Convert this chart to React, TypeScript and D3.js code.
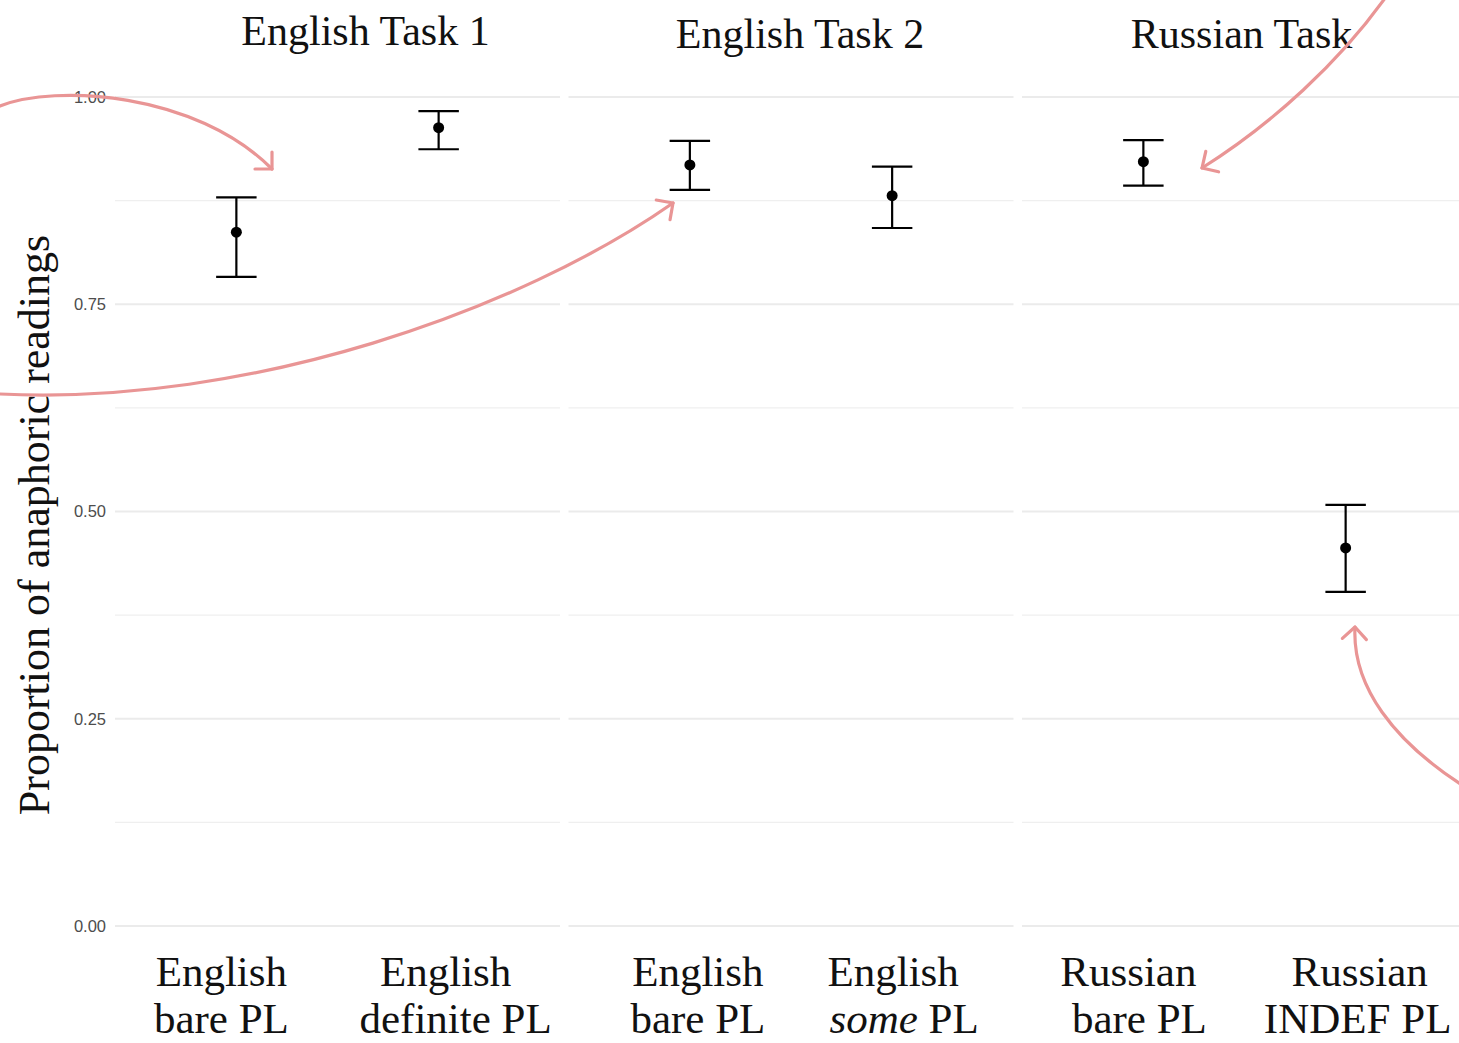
import React from "react";
import * as d3 from "d3";

// Facets (tasks) and the two conditions in each
const panelNames = ["English Task 1", "English Task 2", "Russian Task"];
const conditionPanel = [0, 0, 1, 1, 2, 2];
const conditionIds = ["en1_bare", "en1_def", "en2_bare", "en2_some", "ru_bare", "ru_indef"];
const labelLine1 = ["English", "English", "English", "English", "Russian", "Russian"];
const labelLine2 = ["bare PL", "definite PL", "bare PL", "some PL", "bare PL", "INDEF PL"];

// Proportion of anaphoric readings with confidence intervals
const meanProp = [0.837, 0.963, 0.918, 0.881, 0.922, 0.456];
const ciLow = [0.783, 0.937, 0.888, 0.842, 0.893, 0.403];
const ciHigh = [0.879, 0.983, 0.947, 0.916, 0.948, 0.508];

const yMajor = [0, 0.25, 0.5, 0.75, 1];
const yMinor = [0.125, 0.375, 0.625, 0.875];

// Layout
const W = 1459;
const H = 1043;
const panelX0 = 115;
const panelW = 445;
const panelGap = 8.5;
const plotTop = 97;
const plotBottom = 926;

const SERIF = "'Liberation Serif', 'Times New Roman', serif";
const SANS = "'Liberation Sans', Arial, sans-serif";
const ARROW = "#e99595";

// Hand-drawn annotation arrows (cubic curves in page space)
const arrows: [number, number][][] = [
  [[0, 106], [55, 84], [195, 92], [272, 169]],
  [[0, 394], [250, 406], [520, 310], [673, 203]],
  [[1388, -6], [1340, 62], [1272, 124], [1202, 168]],
  [[1470, 790], [1392, 742], [1352, 685], [1355, 627]],
];

// Per-line nudges of the category labels and strip titles
const line1Dx = [-15, 7, 8, 1, -15, 14];
const line2Dx = [-15, 17, 8, 12, -4, 12];
const titleDx = [28, 9, -3];
const titleY = [45, 48, 48];

export default function App() {
  const y = d3.scaleLinear().domain([0, 1]).range([plotBottom, plotTop]);
  const fmt = d3.format(".2f");

  const panelRange = (p: number): [number, number] => {
    const x0 = panelX0 + p * (panelW + panelGap);
    return [x0, x0 + panelW];
  };
  const xScales = panelNames.map((_, p) =>
    d3
      .scalePoint<string>()
      .domain(conditionIds.filter((_, i) => conditionPanel[i] === p))
      .range(panelRange(p))
      .padding(0.6)
  );
  const xOf = (i: number) => xScales[conditionPanel[i]](conditionIds[i]) as number;
  const capHalf = xScales[0].step() * 0.1;

  const curve = (pts: [number, number][]) => {
    const p = d3.path();
    p.moveTo(pts[0][0], pts[0][1]);
    p.bezierCurveTo(pts[1][0], pts[1][1], pts[2][0], pts[2][1], pts[3][0], pts[3][1]);
    return p.toString();
  };
  const head = (pts: [number, number][]) => {
    const [tx, ty] = pts[3];
    const ang = Math.atan2(ty - pts[2][1], tx - pts[2][0]);
    const L = 17;
    const a1 = ang + Math.PI - Math.PI / 4;
    const a2 = ang + Math.PI + Math.PI / 4;
    return `M${tx + L * Math.cos(a1)},${ty + L * Math.sin(a1)}L${tx},${ty}L${tx + L * Math.cos(a2)},${ty + L * Math.sin(a2)}`;
  };

  return (
    <svg
      width={W}
      height={H}
      style={{ position: "fixed", left: 0, top: 0, background: "#fff" }}
    >
      <rect width={W} height={H} fill="#fff" />
      {panelNames.map((name, p) => {
        const [x0, x1] = panelRange(p);
        return (
          <g key={name}>
            {yMinor.map((v) => (
              <line key={"m" + v} x1={x0} x2={x1} y1={y(v)} y2={y(v)} stroke="#efefef" strokeWidth={1.2} />
            ))}
            {yMajor.map((v) => (
              <line key={"M" + v} x1={x0} x2={x1} y1={y(v)} y2={y(v)} stroke="#ebebeb" strokeWidth={2.2} />
            ))}
            <text
              x={(x0 + x1) / 2 + titleDx[p]}
              y={titleY[p]}
              textAnchor="middle"
              fontFamily={SERIF}
              fontSize={42}
              fill="#111"
            >
              {name}
            </text>
          </g>
        );
      })}

      {yMajor.map((v) => (
        <text
          key={"t" + v}
          x={106}
          y={y(v)}
          dy="0.36em"
          textAnchor="end"
          fontFamily={SANS}
          fontSize={16.5}
          fill="#4d4d4d"
        >
          {fmt(v)}
        </text>
      ))}

      <text
        transform={`translate(49,525) rotate(-90)`}
        textAnchor="middle"
        fontFamily={SERIF}
        fontSize={44}
        fill="#111"
      >
        Proportion of anaphoric readings
      </text>

      {conditionIds.map((id, i) => {
        const cx = xOf(i);
        return (
          <g key={id} stroke="#000" strokeWidth={2.2}>
            <line x1={cx} x2={cx} y1={y(ciLow[i])} y2={y(ciHigh[i])} />
            <line x1={cx - capHalf} x2={cx + capHalf} y1={y(ciLow[i])} y2={y(ciLow[i])} />
            <line x1={cx - capHalf} x2={cx + capHalf} y1={y(ciHigh[i])} y2={y(ciHigh[i])} />
            <circle cx={cx} cy={y(meanProp[i])} r={5.5} fill="#000" stroke="none" />
          </g>
        );
      })}

      {conditionIds.map((id, i) => {
        const cx = xOf(i);
        const l2 = labelLine2[i];
        const italic = l2.startsWith("some ");
        return (
          <g key={"lab" + id} fontFamily={SERIF} fontSize={43} fill="#111" textAnchor="middle">
            <text x={cx + line1Dx[i]} y={986}>
              {labelLine1[i]}
            </text>
            <text x={cx + line2Dx[i]} y={1033}>
              {italic ? (
                <>
                  <tspan fontStyle="italic">some</tspan>
                  {l2.slice(4)}
                </>
              ) : (
                l2
              )}
            </text>
          </g>
        );
      })}

      {arrows.map((pts, k) => (
        <g key={"a" + k} fill="none" stroke={ARROW} strokeWidth={3.2} strokeLinecap="round" strokeLinejoin="round">
          <path d={curve(pts)} />
          <path d={head(pts)} />
        </g>
      ))}
    </svg>
  );
}
